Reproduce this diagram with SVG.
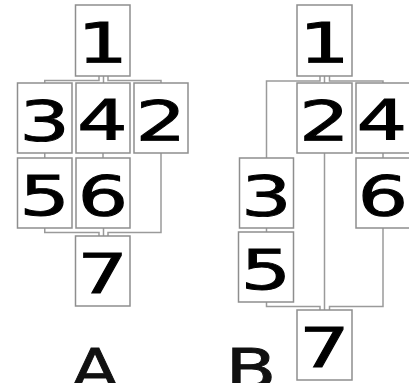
<svg xmlns="http://www.w3.org/2000/svg" width="409" height="383" viewBox="0 0 409 383">
<style>
.box{fill:#fff;stroke:#8e8e8e;stroke-width:1.5}
.num{font-family:"DejaVu Sans",sans-serif;font-size:55px;fill:#000;stroke:#000;stroke-width:0.9;text-anchor:middle}
.lbl{font-family:"DejaVu Sans",sans-serif;font-size:55px;fill:#111;stroke:#111;stroke-width:0.8;text-anchor:middle}
.c{fill:none;stroke:#9a9a9a;stroke-width:1.5}
</style>
<rect width="409" height="383" fill="#fff"/>
<g id="connectors">
<path class="c" d="M99,76 V80.5 H44.75 V83"/>
<path class="c" d="M103.5,76 V83"/>
<path class="c" d="M108,76 V80.5 H161 V83"/>
<path class="c" d="M44.75,153 V158"/>
<path class="c" d="M103,153 V158"/>
<path class="c" d="M44.75,228 V232.5 H99 V236"/>
<path class="c" d="M103.5,228 V236"/>
<path class="c" d="M161,153 V232.5 H108 V236"/>
<path class="c" d="M320,76 V81 H266.5 V158"/>
<path class="c" d="M324.5,76 V83"/>
<path class="c" d="M329.5,76 V81 H383 V83"/>
<path class="c" d="M383,153 V158"/>
<path class="c" d="M266.5,228 V232"/>
<path class="c" d="M324.5,153 V310"/>
<path class="c" d="M266.5,302 V306.5 H320 V310"/>
<path class="c" d="M383,228 V306.5 H329.5 V310"/>
</g>
<g id="A1"><rect class="box" x="75.5" y="5" width="54.5" height="71"/><text class="num" transform="translate(102.75,62) scale(1.45,1)">1</text></g>
<g id="A3"><rect class="box" x="17.5" y="83" width="54.5" height="70"/><text class="num" transform="translate(44.75,140) scale(1.45,1)">3</text></g>
<g id="A4"><rect class="box" x="76" y="83" width="54" height="70"/><text class="num" transform="translate(102.5,139) scale(1.45,1)">4</text></g>
<g id="A2"><rect class="box" x="134" y="83" width="54" height="70"/><text class="num" transform="translate(161,140) scale(1.45,1)">2</text></g>
<g id="A5"><rect class="box" x="17.5" y="158" width="54.5" height="70"/><text class="num" transform="translate(44.75,215) scale(1.45,1)">5</text></g>
<g id="A6"><rect class="box" x="76" y="158" width="54" height="70"/><text class="num" transform="translate(103,215) scale(1.45,1)">6</text></g>
<g id="A7"><rect class="box" x="75.5" y="236" width="54.5" height="70"/><text class="num" transform="translate(102.75,293) scale(1.45,1)">7</text></g>
<g id="B1"><rect class="box" x="297" y="5" width="55" height="71"/><text class="num" transform="translate(324.5,62) scale(1.45,1)">1</text></g>
<g id="B2"><rect class="box" x="297" y="83" width="55" height="70"/><text class="num" transform="translate(324.5,140) scale(1.45,1)">2</text></g>
<g id="B4"><rect class="box" x="356" y="83" width="54" height="70"/><text class="num" transform="translate(382,139) scale(1.45,1)">4</text></g>
<g id="B3"><rect class="box" x="239.5" y="158" width="54" height="70"/><text class="num" transform="translate(266.5,215) scale(1.45,1)">3</text></g>
<g id="B6"><rect class="box" x="356" y="158" width="54" height="70"/><text class="num" transform="translate(383,215) scale(1.45,1)">6</text></g>
<g id="B5"><rect class="box" x="238.5" y="232" width="55" height="70"/><text class="num" transform="translate(266,289) scale(1.45,1)">5</text></g>
<g id="B7"><rect class="box" x="297" y="310" width="55" height="70"/><text class="num" transform="translate(324.5,367) scale(1.45,1)">7</text></g>
<text class="lbl" transform="translate(95,388) scale(1.25,1)">A</text>
<text class="lbl" transform="translate(251,388) scale(1.35,1)">B</text>
</svg>
